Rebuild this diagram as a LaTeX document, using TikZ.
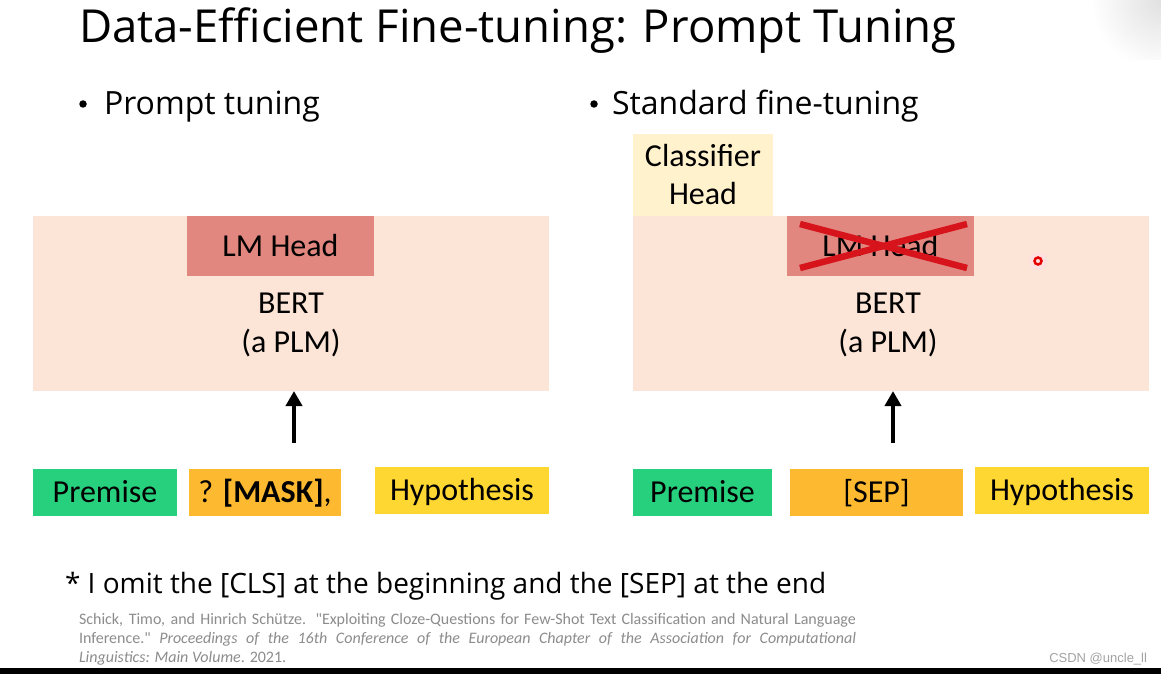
\documentclass[tikz,border=0pt]{standalone}
\usepackage{fontspec}
\setmainfont{Carlito}
\newfontfamily\osans{Open Sans}
\newfontfamily\lsans{Liberation Sans}
\usetikzlibrary{arrows.meta,calc}
\definecolor{bertbg}{HTML}{FCE4D6}
\definecolor{lmhead}{HTML}{E2877F}
\definecolor{clshead}{HTML}{FFF2CC}
\definecolor{tokgreen}{HTML}{27D07D}
\definecolor{tokorange}{HTML}{FDB92F}
\definecolor{tokyellow}{HTML}{FFD732}
\definecolor{crossred}{HTML}{D7141C}
\definecolor{citegray}{HTML}{8C8C8C}
\tikzset{
  plain/.style={inner sep=0pt, outer sep=0pt, draw=none},
  bertbox/.style={plain, fill=bertbg, minimum width=516pt, minimum height=175pt, anchor=north west},
  headbox/.style={plain, fill=lmhead, minimum width=187pt, minimum height=60pt, anchor=north west, font=\fontsize{32}{38}\selectfont},
  tok/.style={plain, minimum height=47pt, anchor=north west, text height=23pt, text depth=3pt, font=\fontsize{32}{38}\selectfont},
  lbl/.style={plain, align=center, font=\fontsize{32}{39}\selectfont},
  bullet/.style={plain, anchor=base west, font=\osans\fontsize{32}{38}\selectfont},
  bdot/.style={fill=black, circle, inner sep=0pt, minimum size=7.5pt},
  uparrow/.style={line width=4pt, -{Triangle[width=16pt,length=15pt]}},
  cross/.style={crossred, line width=6.5pt}
}
\begin{document}
\begin{tikzpicture}[x=1pt,y=-1pt]
\fill[white] (0,0) rectangle (1161,674);
\useasboundingbox (0,0) rectangle (1161,674);
% faint glare top right
\shade[inner color=black!12, outer color=white] (1161,0) circle (70);
\fill[white] (1050,60) rectangle (1161,75);
% title
\node[plain, anchor=base west, font=\osans\fontsize{45.5}{50}\selectfont] (title) at (79,43) {Data-Efficient Fine-tuning: Prompt Tuning};
% bullets
\node[bdot] (dotL) at (83,104) {};
\node[bullet] (bulL) at (104,114) {Prompt tuning};
\node[bdot] (dotR) at (594,104) {};
\node[bullet] (bulR) at (612,114) {Standard fine-tuning};
% ---- left model
\node[bertbox] (bertL) at (33,216) {};
\node[headbox] (lmL) at (187,216) {LM Head};
\node[lbl] (bertLtxt) at (291,325) {BERT\\(a PLM)};
% ---- right model
\node[plain, fill=clshead, minimum width=140pt, minimum height=82pt, anchor=north west, align=center, font=\fontsize{32}{38}\selectfont] (clsR) at (633,134) {Classifier\\Head};
\node[bertbox] (bertR) at (633,216) {};
\node[headbox] (lmR) at (787,216) {LM Head};
\draw[cross] ($(lmR.north west)+(13,8)$) -- ($(lmR.south east)+(-7,-8)$);
\draw[cross] ($(lmR.south west)+(13,-8)$) -- ($(lmR.north east)+(-7,8)$);
\node[lbl] (bertRtxt) at (888,325) {BERT\\(a PLM)};
% cursor dot
\fill[red!12] (1038,261) circle (9);
\draw[red!90!black, line width=2.5pt] (1038,261) circle (3.5);
% ---- tokens left
\node[tok, fill=tokgreen, minimum width=144pt] (premL) at (33,469) {Premise};
\node[tok, fill=tokorange, minimum width=152pt] (maskL) at (189,469) {? \textbf{[MASK]},};
\node[tok, fill=tokyellow, minimum width=174pt] (hypL) at (375,467) {Hypothesis};
% ---- tokens right
\node[tok, fill=tokgreen, minimum width=139pt] (premR) at (633,469) {Premise};
\node[tok, fill=tokorange, minimum width=173pt] (sepR) at (790,469) {[SEP]};
\node[tok, fill=tokyellow, minimum width=174pt] (hypR) at (975,467) {Hypothesis};
% arrows
\coordinate (aL) at (294,443);
\coordinate (aR) at (893,443);
\draw[uparrow] (aL) -- (aL |- bertL.south);
\draw[uparrow] (aR) -- (aR |- bertR.south);
% footnote
\node[plain, anchor=base west, font=\osans\fontsize{28}{34}\selectfont] (foot) at (65,593) {* I omit the [CLS] at the beginning and the [SEP] at the end};
% citation
\node[plain, anchor=north west, text width=777pt, align=justify, text=citegray, font=\fontsize{16}{19}\selectfont] (cite) at (79,613) {Schick, Timo, and Hinrich Schütze. \textquotedbl Exploiting Cloze-Questions for Few-Shot Text Classification and Natural Language\linebreak Inference.\textquotedbl\ \textit{Proceedings of the 16th Conference of the European Chapter of the Association for Computational\linebreak Linguistics: Main Volume}. 2021.};
\node[plain, anchor=base east, text=citegray!80, font=\lsans\fontsize{13}{15}\selectfont] (csdn) at (1147,662) {CSDN @uncle\_ll};
% bottom band
\fill[black] (0,668) rectangle (1161,674);
\end{tikzpicture}
\end{document}
